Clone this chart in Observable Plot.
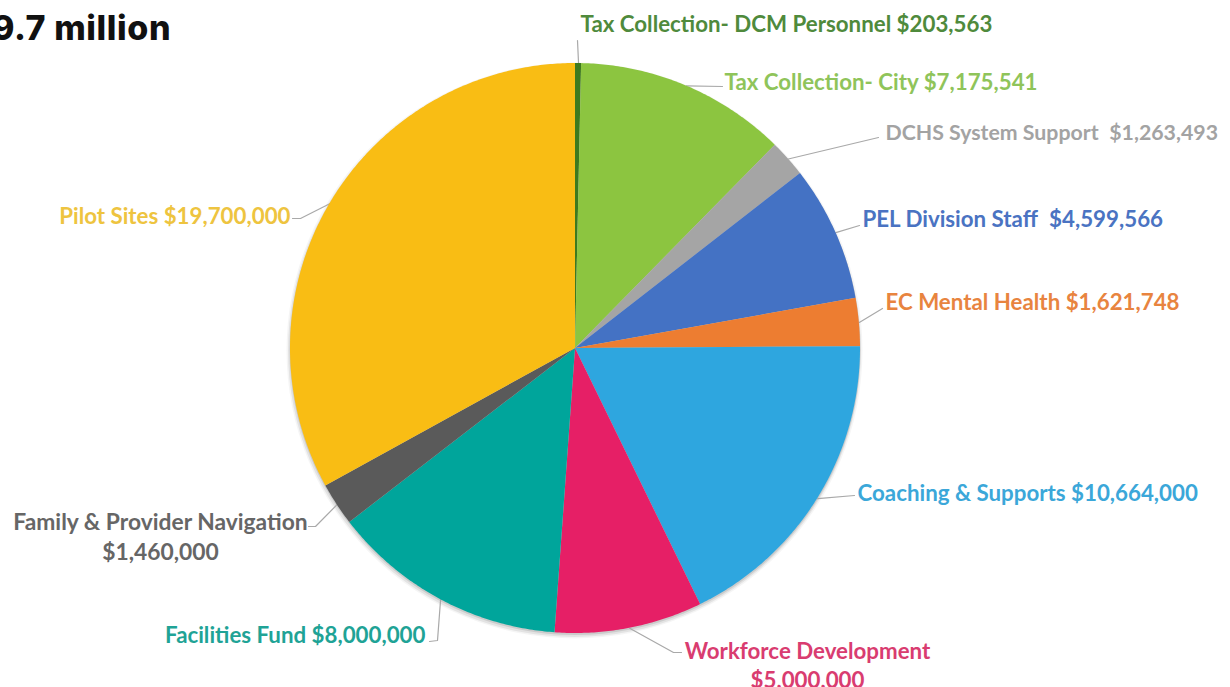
<!DOCTYPE html>
<html><head><meta charset="utf-8">
<script src="https://cdn.jsdelivr.net/npm/d3@7"></script>
<script src="https://cdn.jsdelivr.net/npm/@observablehq/plot@0.6"></script>
<style>
html,body{margin:0;padding:0;background:#fff;overflow:hidden}
#wrap{position:relative;width:1230px;height:687px;overflow:hidden}
#title{position:absolute;left:-8px;top:7px;font-family:Inter,"Open Sans",sans-serif;font-weight:800;font-size:34px;letter-spacing:0.6px;color:#111;white-space:nowrap}
#chart{position:absolute;left:0;top:0}
</style></head><body>
<div id="wrap"><div id="chart"></div><div id="title">9.7 million</div></div>
<script>
// ---- data ----
const names = [
  "Tax Collection- DCM Personnel",
  "Tax Collection- City",
  "DCHS System Support",
  "PEL Division Staff",
  "EC Mental Health",
  "Coaching & Supports",
  "Workforce Development",
  "Facilities Fund",
  "Family & Provider Navigation",
  "Pilot Sites"
];
const values = [203563, 7175541, 1263493, 4599566, 1621748, 10664000, 5000000, 8000000, 1460000, 19700000];
const sliceColors = ["#3d7a1f", "#8cc540", "#a5a5a5", "#4472c4", "#ed7d31", "#2ea6df", "#e61f66", "#00a59b", "#5a5a5a", "#f9bd14"];
const labelColors = ["#4f8a3c", "#8fc45a", "#a3a3a3", "#4a73c2", "#e8843f", "#3ba7d9", "#d93c70", "#1fa396", "#666666", "#eec43f"];
const valueSeparators = [" ", " ", "\u2002", "\u2002", " ", " ", "\n", " ", "\n", " "];

// ---- layout ----
const W = 1230, H = 687, cx = 575, cy = 348, R = 285;
const labelX = [580, 724, 885, 862, 885, 857, 807, 425, 160, 290];
const labelY = [22, 80, 131, 217, 300, 491, 664, 633, 535, 214];
const labelAnchor = ["start", "start", "start", "start", "start", "start", "middle", "end", "middle", "end"];
const labelSize = [22.3, 22.3, 21.3, 22.3, 22.3, 22.3, 22.3, 22.3, 22.8, 22.3];
// leader line points (from slice edge toward label)
const leaderPts = [
  [[577, 40]],
  [[722, 86]],
  [[878, 137]],
  [[859, 225]],
  [[882, 308]],
  [[854, 495]],
  [[673, 652], [681, 652]],
  [[437, 640], [429, 641]],
  [[315, 526], [308, 526]],
  [[300, 218], [292, 218]]
];

const fmt = d3.format("$,");
const rows = names.map((n, i) => ({name: n, value: values[i], i}));
const arcs = d3.pie().sort(null).value(d => d.value).startAngle(0).endAngle(2 * Math.PI)(rows);

const pt = (a, r) => [cx + r * Math.sin(a), cy - r * Math.cos(a)];

const slicePts = [];
arcs.forEach(a => {
  const key = "slice:" + a.data.name;
  const n = Math.max(2, Math.ceil((a.endAngle - a.startAngle) / (Math.PI / 360)));
  for (let k = 0; k <= n; k++) {
    const ang = a.startAngle + (a.endAngle - a.startAngle) * k / n;
    const [x, y] = pt(ang, R);
    slicePts.push({key, x, y, x0: cx, y0: cy});
  }
});

const leaderData = [];
arcs.forEach((a, i) => {
  const mid = (a.startAngle + a.endAngle) / 2;
  const [x0, y0] = pt(mid, R);
  leaderData.push({z: i, x: x0, y: y0});
  leaderPts[i].forEach(([x, y]) => leaderData.push({z: i, x, y}));
});

const labels = rows.map((d, i) => ({
  key: "label:" + d.name,
  text: d.name + valueSeparators[i] + fmt(d.value),
  x: labelX[i], y: labelY[i], anchor: labelAnchor[i], size: labelSize[i]
}));

// soft shadow rings behind the pie
const shadow = [
  {x: cx - 1, y: cy + 2, r: R + 3, o: 0.04},
  {x: cx - 1, y: cy + 2, r: R + 1.5, o: 0.07},
  {x: cx - 0.5, y: cy + 1, r: R + 0.5, o: 0.1}
];

const colorDomain = names.map(n => "slice:" + n).concat(names.map(n => "label:" + n));
const colorRange = sliceColors.concat(labelColors);

const textMarks = ["start", "middle", "end"].map(anchor =>
  Plot.text(labels.filter(d => d.anchor === anchor), {
    x: "x", y: "y", text: "text", fill: "key", textAnchor: anchor,
    fontFamily: "Lato, 'Open Sans', sans-serif", fontWeight: 700, fontSize: "size", lineHeight: 1.3
  })
);

const chart = Plot.plot({
  width: W, height: H,
  margin: 0,
  x: {domain: [0, W], range: [0, W], axis: null},
  y: {domain: [0, H], range: [0, H], axis: null},
  r: {type: "identity"},
  color: {domain: colorDomain, range: colorRange},
  style: {background: "transparent", overflow: "visible"},
  marks: [
    Plot.dot(shadow, {x: "x", y: "y", r: "r", fill: "#000", fillOpacity: "o", stroke: "none"}),
    Plot.line(leaderData, {x: "x", y: "y", z: "z", stroke: "#a9a9a9", strokeWidth: 1.2}),
    Plot.area(slicePts, {x1: "x", y1: "y", x2: "x0", y2: "y0", z: "key", fill: "key"}),
    ...textMarks
  ]
});
document.getElementById("chart").appendChild(chart);
</script>
</body></html>
